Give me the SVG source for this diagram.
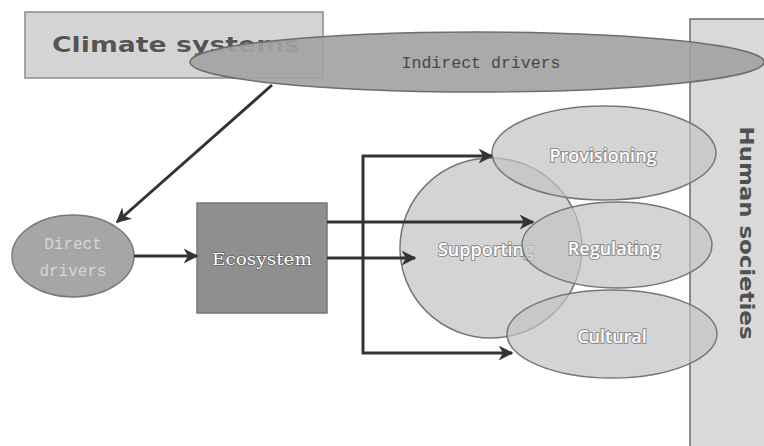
<svg xmlns="http://www.w3.org/2000/svg" width="764" height="446" viewBox="0 0 764 446">
<defs>
<marker id="arr" viewBox="0 0 10 10" refX="9" refY="5" markerWidth="5" markerHeight="5" orient="auto" markerUnits="strokeWidth">
<path d="M0,0 L10,5 L0,10 L3,5 z" fill="#333"/>
</marker>
</defs>
<style>
.conn{stroke:#333;stroke-width:3;fill:none}
.svc{fill:#c4c4c4;fill-opacity:0.72;stroke:#777;stroke-width:1.5}
.wt{font-family:"Open Sans","DejaVu Sans",sans-serif;font-size:18px;font-weight:600;fill:#fff;stroke:#8a8a8a;stroke-width:2;stroke-linejoin:round;paint-order:stroke;text-anchor:middle}
</style>
<rect width="764" height="446" fill="#fff"/>
<g id="human">
<rect x="690" y="19" width="80" height="440" fill="#d9d9d9" stroke="#6a6a6a" stroke-width="1.5"/>
<text x="747" y="233" transform="rotate(90 747 233)" text-anchor="middle" dominant-baseline="central" font-family="DejaVu Sans,sans-serif" font-weight="bold" font-size="19" fill="#505050" textLength="213" lengthAdjust="spacingAndGlyphs">Human societies</text>
</g>
<g id="climate">
<rect x="25" y="12" width="298" height="66" fill="#d4d4d4" stroke="#8a8a8a" stroke-width="1.5"/>
<text x="176" y="52" text-anchor="middle" font-family="DejaVu Sans,sans-serif" font-weight="bold" font-size="22" fill="#555" stroke="#eee" stroke-width="0.6" paint-order="stroke" textLength="248" lengthAdjust="spacingAndGlyphs">Climate systems</text>
</g>
<g id="indirect">
<ellipse cx="477" cy="62" rx="287" ry="30" fill="#a3a3a3" fill-opacity="0.92" stroke="#6e6e6e" stroke-width="1.5"/>
<text x="481" y="68" text-anchor="middle" font-family="Liberation Mono,monospace" font-size="16" fill="#474747" textLength="159" lengthAdjust="spacingAndGlyphs">Indirect drivers</text>
</g>
<g id="direct">
<ellipse cx="73" cy="256" rx="61" ry="41" fill="#a6a6a6" stroke="#7a7a7a" stroke-width="1.5"/>
<text x="73" y="249" text-anchor="middle" font-family="Liberation Mono,monospace" font-size="16" fill="#d6d6d6">Direct</text>
<text x="73" y="276" text-anchor="middle" font-family="Liberation Mono,monospace" font-size="16" fill="#d6d6d6">drivers</text>
</g>
<g id="ecosystem">
<rect x="197" y="203" width="130" height="110" fill="#8f8f8f" stroke="#777" stroke-width="1.5"/>
<text x="262" y="265" text-anchor="middle" font-family="DejaVu Serif,serif" font-size="17" fill="#fff" stroke="#555" stroke-width="1.2" paint-order="stroke" textLength="100" lengthAdjust="spacingAndGlyphs">Ecosystem</text>
</g>
<g id="supporting">
<ellipse class="svc" cx="491" cy="248" rx="91" ry="90"/>
<text class="wt" x="486" y="256">Supporting</text>
</g>
<g id="provisioning">
<ellipse class="svc" cx="604" cy="153" rx="112" ry="47"/>
<text class="wt" x="603" y="162">Provisioning</text>
</g>
<g id="regulating">
<ellipse class="svc" cx="617" cy="245" rx="95" ry="43"/>
<text class="wt" x="614" y="255">Regulating</text>
</g>
<g id="cultural">
<ellipse class="svc" cx="612" cy="334" rx="105" ry="44"/>
<text class="wt" x="612" y="343">Cultural</text>
</g>
<g id="connectors">
<line class="conn" x1="272" y1="85" x2="117" y2="222" marker-end="url(#arr)"/>
<line class="conn" x1="134" y1="256" x2="197" y2="256" marker-end="url(#arr)"/>
<line class="conn" x1="327" y1="222" x2="533" y2="222" marker-end="url(#arr)"/>
<line class="conn" x1="327" y1="258" x2="415" y2="258" marker-end="url(#arr)"/>
<line class="conn" x1="363" y1="155" x2="363" y2="354"/>
<line class="conn" x1="362" y1="156" x2="492" y2="156" marker-end="url(#arr)"/>
<line class="conn" x1="362" y1="353" x2="512" y2="353" marker-end="url(#arr)"/>
</g>
</svg>
